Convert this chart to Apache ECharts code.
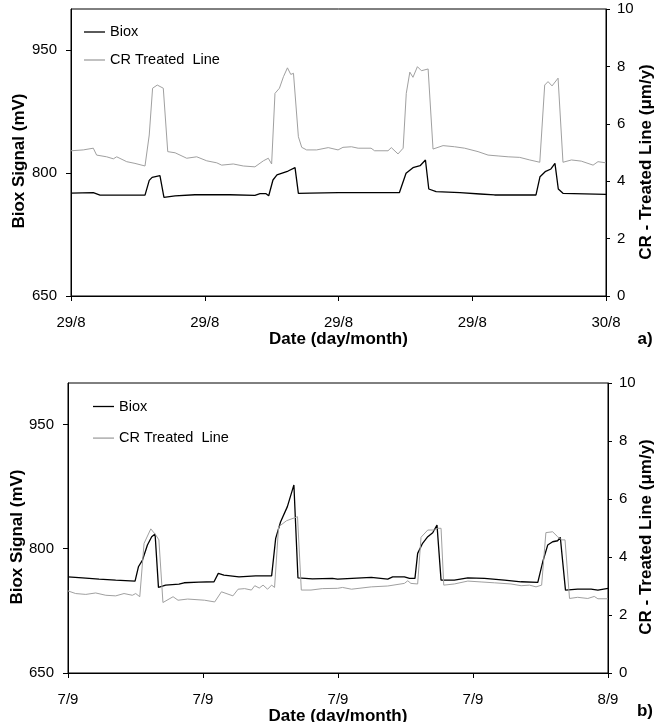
<!DOCTYPE html>
<html>
<head>
<meta charset="utf-8">
<script src="https://cdn.jsdelivr.net/npm/echarts@6/dist/echarts.min.js"></script>
<style>html,body{margin:0;padding:0;background:#fff}#c{width:655px;height:722px}</style>
</head>
<body>
<div id="c"></div>
<script>
// ---- data (hours of day on x) ----
var topTickLabels = ['29/8', '29/8', '29/8', '29/8', '30/8'];
var botTickLabels = ['7/9', '7/9', '7/9', '7/9', '8/9'];
var leftTicks = [650, 800, 950];

var topBiox = [
[0,775.5],[1.0,776],[1.3,773],[3.32,773],[3.51,791],[3.64,794.7],[3.99,796.7],[4.05,797.6],[4.17,770.4],[4.67,772],[5.56,773.5],[7.13,773.5],[8.25,772.8],[8.48,774.8],[8.75,774.8],[8.87,772.3],[9.06,791.5],[9.24,797.6],[9.74,802.4],[10.05,806.5],[10.2,775.2],[10.72,775.5],[12.0,776],[14.73,776],[15.03,799.6],[15.34,806.5],[15.66,808.9],[15.9,815.9],[16.05,780.5],[16.38,777.2],[17.45,776],[18.35,774.4],[19.0,773.2],[20.86,773.2],[21.04,795.5],[21.27,801.6],[21.53,804.9],[21.71,811.8],[21.86,780.5],[22.07,775.2],[24,774]
];
var topCR = [
[0,5.06],[0.55,5.09],[1.0,5.15],[1.15,4.91],[1.6,4.85],[1.9,4.78],[2.05,4.85],[2.5,4.68],[2.87,4.62],[3.32,4.53],[3.51,5.61],[3.66,7.24],[3.87,7.35],[4.14,7.24],[4.34,5.03],[4.67,4.99],[4.89,4.91],[5.19,4.8],[5.64,4.85],[6.09,4.71],[6.54,4.64],[6.76,4.56],[7.28,4.6],[7.73,4.53],[8.25,4.5],[8.63,4.71],[8.85,4.8],[9.0,4.6],[9.15,7.06],[9.35,7.24],[9.53,7.64],[9.71,7.95],[9.86,7.72],[9.98,7.76],[10.2,5.55],[10.35,5.18],[10.57,5.09],[11.02,5.09],[11.54,5.17],[11.98,5.09],[12.2,5.18],[12.58,5.2],[12.88,5.15],[13.46,5.15],[13.62,5.06],[14.22,5.06],[14.37,5.17],[14.67,4.95],[14.9,5.15],[15.04,7.06],[15.2,7.8],[15.34,7.62],[15.54,7.99],[15.72,7.85],[16.02,7.91],[16.24,5.12],[16.69,5.24],[17.21,5.2],[17.66,5.15],[18.26,5.03],[18.71,4.91],[19.16,4.88],[19.61,4.85],[20.13,4.83],[20.58,4.74],[21.03,4.66],[21.25,7.35],[21.4,7.47],[21.58,7.32],[21.85,7.59],[22.07,4.66],[22.45,4.74],[22.89,4.7],[23.42,4.56],[23.64,4.68],[24,4.64]
];
var botBiox = [
[0,766.1],[0.64,764.9],[1.38,763.3],[2.12,762.1],[2.98,760.9],[3.13,778.2],[3.31,786.3],[3.53,804.4],[3.72,814.5],[3.87,817.7],[4.02,753.3],[4.34,756.1],[4.93,757.3],[5.16,758.9],[5.82,759.7],[6.49,760.1],[6.68,770.2],[6.93,768.2],[7.6,766.1],[8.34,767.3],[9.05,767.3],[9.23,812.5],[9.45,832.6],[9.75,850.8],[10.04,877],[10.22,764.9],[10.86,763.7],[11.75,764.2],[11.98,763.3],[13.48,765.4],[14.21,763.3],[14.43,766.1],[14.95,766.1],[15.18,764.2],[15.42,764.2],[15.54,794.4],[15.76,806.5],[15.99,814.5],[16.21,819.3],[16.4,828.6],[16.58,762.1],[17.17,762.1],[17.77,764.9],[18.51,764.2],[19.4,762.1],[20.14,760.1],[20.88,759.3],[20.95,759.3],[21.1,784.2],[21.32,804.4],[21.54,808.4],[21.76,809.6],[21.88,813.8],[22.11,750],[22.65,751.2],[23.25,751.2],[23.55,750],[24,752.1]
];
var botCR = [
[0,2.83],[0.34,2.74],[0.79,2.71],[1.23,2.76],[1.68,2.68],[2.12,2.66],[2.49,2.74],[2.86,2.68],[3.01,2.74],[3.19,2.63],[3.38,4.47],[3.68,4.97],[3.9,4.76],[4.04,4.59],[4.22,2.43],[4.67,2.63],[4.89,2.51],[5.32,2.55],[6.07,2.51],[6.52,2.45],[6.82,2.8],[7.33,2.66],[7.56,2.89],[7.85,2.91],[8.15,2.86],[8.3,3.01],[8.5,2.93],[8.67,3.03],[8.87,2.89],[9.05,3.03],[9.18,2.95],[9.36,5.04],[9.71,5.25],[10.2,5.39],[10.37,2.86],[10.8,2.86],[11.3,2.91],[11.98,2.92],[12.2,2.95],[12.6,2.89],[13.48,2.97],[14.21,3.0],[14.95,3.09],[15.1,3.18],[15.24,3.09],[15.54,3.07],[15.69,4.68],[15.99,4.93],[16.28,4.93],[16.43,4.99],[16.58,4.99],[16.7,3.03],[17.17,3.07],[17.77,3.17],[18.36,3.14],[18.95,3.11],[19.69,3.07],[20.14,3.01],[20.51,3.03],[20.8,2.97],[21.05,3.03],[21.24,4.84],[21.54,4.87],[21.76,4.7],[21.94,4.59],[22.09,4.59],[22.29,2.57],[22.65,2.61],[23.1,2.57],[23.39,2.64],[23.55,2.56],[24,2.56]
];
var leftTitle = 'Biox Signal (mV)';
var rightTitle = 'CR - Treated Line (\u03bcm/y)';

var FONT = '"Liberation Sans", Arial, sans-serif';
var AX = '#000';
var BIOX_COLOR = '#000';
var CR_COLOR = '#a0a0a0';

function xAxis(gi, labels, gap) {
  return {
    type: 'value', gridIndex: gi, min: 0, max: 24, interval: 6,
    axisLine: {show: true, lineStyle: {color: AX, width: 1}},
    axisTick: {show: true, inside: false, length: 5, lineStyle: {color: AX}},
    splitLine: {show: false},
    axisLabel: {color: '#000', fontSize: 15, fontFamily: FONT, margin: 19,
      formatter: function (v) { return labels[Math.round(v / 6)]; }},
    name: 'Date (day/month)', nameLocation: 'middle', nameGap: gap,
    nameTextStyle: {color: '#000', fontSize: 17, fontWeight: 'bold', fontFamily: FONT}
  };
}
function leftAxis(gi) {
  return {
    type: 'value', gridIndex: gi, min: 650, max: 1000, interval: 50, position: 'left',
    axisLine: {show: true, lineStyle: {color: AX, width: 1}},
    axisTick: {show: true, length: 5, lineStyle: {color: AX}, customValues: leftTicks},
    splitLine: {show: false},
    axisLabel: {color: '#000', fontSize: 15, fontFamily: FONT, margin: 14, customValues: leftTicks}
  };
}
function rightAxis(gi) {
  return {
    type: 'value', gridIndex: gi, min: 0, max: 10, interval: 2, position: 'right',
    axisLine: {show: true, onZero: false, lineStyle: {color: AX, width: 1}},
    axisTick: {show: true, length: 4, lineStyle: {color: AX}},
    splitLine: {show: false},
    axisLabel: {color: '#000', fontSize: 15, fontFamily: FONT, margin: 11}
  };
}
function lineSeries(name, data, xi, yi, color, w) {
  return {
    type: 'line', name: name, data: data, xAxisIndex: xi, yAxisIndex: yi,
    symbol: 'none', showSymbol: false, animation: false,
    lineStyle: {color: color, width: w}, itemStyle: {color: color}
  };
}
function legendData() {
  return [
    {name: 'Biox', icon: 'rect', itemStyle: {color: BIOX_COLOR}},
    {name: 'CR Treated  Line', icon: 'rect', itemStyle: {color: CR_COLOR}}
  ];
}
function vTitle(text, x, y) {
  return {type: 'text', x: x, y: y, rotation: Math.PI / 2,
    style: {text: text, font: 'bold 17px ' + FONT, fill: '#000', align: 'center', verticalAlign: 'middle'}};
}

var chart = echarts.init(document.getElementById('c'), null, {renderer: 'canvas'});
chart.setOption({
  animation: false,
  backgroundColor: '#fff',
  grid: [
    {left: 71, top: 9, width: 535, height: 287, show: true, borderColor: '#000', borderWidth: 1,
     containLabel: false, outerBoundsMode: 'none'},
    {left: 68, top: 383, width: 540, height: 290, show: true, borderColor: '#000', borderWidth: 1,
     containLabel: false, outerBoundsMode: 'none'}
  ],
  xAxis: [xAxis(0, topTickLabels, 34), xAxis(1, botTickLabels, 31)],
  yAxis: [leftAxis(0), rightAxis(0), leftAxis(1), rightAxis(1)],
  legend: [
    {orient: 'vertical', left: 84, top: 23.5, padding: 0, itemWidth: 21, itemHeight: 1.3, itemGap: 11,
     data: legendData(),
     textStyle: {color: '#000', fontSize: 14.5, lineHeight: 17, fontFamily: FONT}},
    {orient: 'vertical', left: 93, top: 398, padding: 0, itemWidth: 21, itemHeight: 1.3, itemGap: 14.6,
     data: legendData(),
     textStyle: {color: '#000', fontSize: 14.5, lineHeight: 17, fontFamily: FONT}}
  ],
  series: [
    lineSeries('Biox', topBiox, 0, 0, BIOX_COLOR, 1.3),
    lineSeries('CR Treated  Line', topCR, 0, 1, CR_COLOR, 1),
    lineSeries('Biox', botBiox, 1, 2, BIOX_COLOR, 1.3),
    lineSeries('CR Treated  Line', botCR, 1, 3, CR_COLOR, 1)
  ],
  graphic: [
    vTitle(leftTitle, 19.5, 161),
    vTitle(rightTitle, 646, 162),
    vTitle(leftTitle, 17, 537),
    vTitle(rightTitle, 646, 537),
    {type: 'text', x: 645, y: 339, style: {text: 'a)', font: 'bold 17px ' + FONT, fill: '#000', align: 'center', verticalAlign: 'middle'}},
    {type: 'text', x: 645, y: 711, style: {text: 'b)', font: 'bold 17px ' + FONT, fill: '#000', align: 'center', verticalAlign: 'middle'}}
  ]
});
</script>
</body>
</html>
